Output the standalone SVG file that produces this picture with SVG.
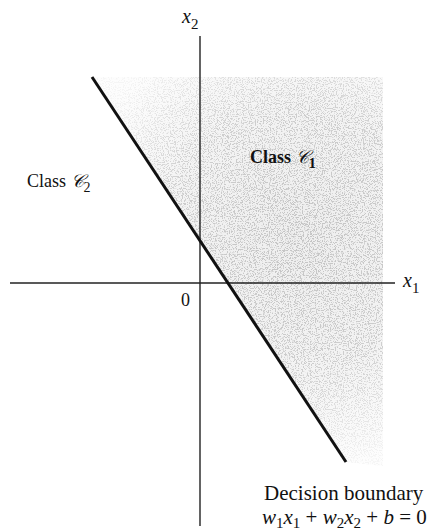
<svg xmlns="http://www.w3.org/2000/svg" width="445" height="530" viewBox="0 0 445 530">
  <style>
    .lbl { font-family: "Liberation Serif", "DejaVu Serif", serif; fill: #111; }
    .it { font-style: italic; }
    .axis { stroke: #222; stroke-width: 1.4; fill: none; }
    .bound { stroke: #111; stroke-width: 3; fill: none; stroke-linecap: butt; }
  </style>
  <defs>
    <filter id="speckle" x="0" y="0" width="1" height="1" filterUnits="objectBoundingBox">
      <feTurbulence type="fractalNoise" baseFrequency="0.85" numOctaves="3" seed="11" result="n"/>
      <feColorMatrix in="n" type="matrix" values="0 0 0 0 0.55  0 0 0 0 0.55  0 0 0 0 0.55  -9 0 0 0 4.4" result="dots"/>
      <feComposite in="dots" in2="SourceGraphic" operator="in"/>
    </filter>
    <radialGradient id="densGrad" gradientUnits="userSpaceOnUse" cx="300" cy="240" r="230">
      <stop offset="0" stop-color="#000" stop-opacity="1"/>
      <stop offset="0.55" stop-color="#000" stop-opacity="0.8"/>
      <stop offset="0.85" stop-color="#000" stop-opacity="0.35"/>
      <stop offset="1" stop-color="#000" stop-opacity="0.15"/>
    </radialGradient>
    <radialGradient id="baseGrad" gradientUnits="userSpaceOnUse" cx="300" cy="240" r="230">
      <stop offset="0" stop-color="#eeeeee"/>
      <stop offset="0.55" stop-color="#f3f3f3"/>
      <stop offset="1" stop-color="#fdfdfd"/>
    </radialGradient>
  </defs>
  <rect width="445" height="530" fill="#fff"/>

  <g id="region-c1">
    <polygon points="92,77 383,77 383,466 346,462" fill="url(#baseGrad)"/>
    <polygon points="92,77 383,77 383,466 346,462" fill="url(#densGrad)" filter="url(#speckle)"/>
  </g>

  <g id="connectors">
    <line id="x1-axis" class="axis" x1="10" y1="283" x2="395" y2="283"/>
    <line id="x2-axis" class="axis" x1="200" y1="36" x2="200" y2="526"/>
    <line id="decision-boundary" class="bound" x1="92" y1="77" x2="346" y2="462"/>
  </g>

  <g id="label-x2">
    <text class="lbl it" x="182" y="23" font-size="20">x<tspan font-size="15" font-style="normal" dy="6">2</tspan></text>
  </g>
  <g id="label-x1">
    <text class="lbl it" x="403" y="287" font-size="20">x<tspan font-size="15" font-style="normal" dy="6">1</tspan></text>
  </g>
  <g id="label-origin">
    <text class="lbl" x="181" y="306" font-size="18">0</text>
  </g>
  <g id="class-c1">
    <text class="lbl" x="250" y="163" font-size="18" font-weight="bold">Class <tspan font-family="DejaVu Serif, serif" font-weight="normal" font-style="italic">𝒞</tspan><tspan font-size="15" dy="5">1</tspan></text>
  </g>
  <g id="class-c2">
    <text class="lbl" x="27" y="187" font-size="18">Class <tspan font-family="DejaVu Serif, serif" font-style="italic">𝒞</tspan><tspan font-size="14" dy="5">2</tspan></text>
  </g>
  <g id="boundary-label">
    <text class="lbl" x="264" y="500" font-size="21">Decision boundary</text>
    <text class="lbl" x="262" y="524" font-size="21"><tspan class="it">w</tspan><tspan font-size="15" dy="4">1</tspan><tspan class="it" dy="-4">x</tspan><tspan font-size="15" dy="4">1</tspan><tspan dy="-4"> + </tspan><tspan class="it">w</tspan><tspan font-size="15" dy="4">2</tspan><tspan class="it" dy="-4">x</tspan><tspan font-size="15" dy="4">2</tspan><tspan dy="-4"> + </tspan><tspan class="it">b</tspan> = 0</text>
  </g>
</svg>
